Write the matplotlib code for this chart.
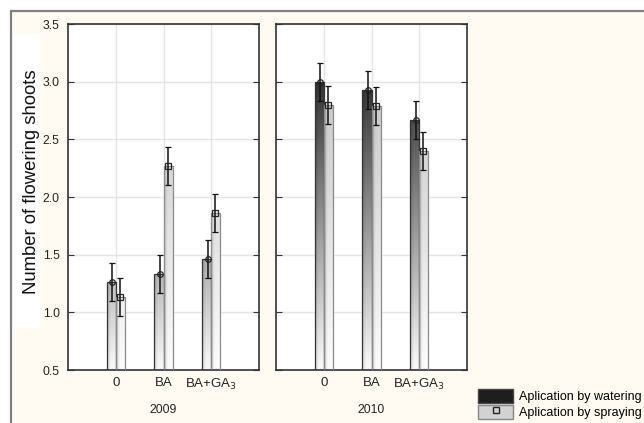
import numpy as np
import matplotlib
matplotlib.use('Agg')
import matplotlib.pyplot as plt
from matplotlib.patches import Rectangle, Patch
from matplotlib.lines import Line2D
from matplotlib.legend_handler import HandlerTuple

plt.rcParams['font.family'] = ['Liberation Sans', 'DejaVu Sans']

years = ['2009', '2010']
treatments = ['0', 'BA', 'BA+GA$_3$']
watering = {'2009': [1.26, 1.33, 1.465], '2010': [3.00, 2.93, 2.665]}
spraying = {'2009': [1.135, 2.27, 1.865], '2010': [2.795, 2.79, 2.395]}
watering_se = {'2009': [0.165, 0.165, 0.165], '2010': [0.165, 0.165, 0.165]}
spraying_se = {'2009': [0.165, 0.165, 0.165], '2010': [0.165, 0.165, 0.165]}
yticks = [0.5, 1.0, 1.5, 2.0, 2.5, 3.0, 3.5]

cream = '#fffaf2'
ymin, ymax = 0.5, 3.5


def gradient_bar(ax, x0, w, h, top_gray, bottom_gray, edge):
    # vertical gradient set by data height, slight darkening on the left side
    ny, nx = 60, 20
    yy = np.linspace(ymin, h, ny)[:, None]
    xx = np.linspace(0, 1, nx)[None, :]
    t = (yy - ymin) / (3.0 - ymin)
    g = bottom_gray + (top_gray - bottom_gray) * t
    g = g * (0.88 + 0.14 * np.clip(xx * 2.5, 0, 1))
    g = np.clip(g, 0, 1)
    img = np.dstack([g, g, g])
    rect = ax.bar(x0, h - ymin, width=w, bottom=ymin, align='edge',
                  facecolor='none', edgecolor=edge, linewidth=0.9, zorder=3)[0]
    im = ax.imshow(img, extent=[x0, x0 + w, ymin, h], origin='lower',
                   aspect='auto', interpolation='bilinear', zorder=2)
    im.set_clip_path(rect)


fig = plt.figure(figsize=(6.44, 4.23), dpi=100, facecolor='white')
W, H = 644.0, 423.0

# frame of the whole picture
fig.patches.append(Rectangle((11 / W, -0.01), 1.0, (H - 11) / H + 0.01,
                             transform=fig.transFigure, facecolor=cream,
                             edgecolor='#808080', linewidth=1.6, zorder=-2))
# white box behind the y label
fig.patches.append(Rectangle((13 / W, 1 - 328 / H), 27 / W, 293 / H,
                             transform=fig.transFigure, facecolor='white',
                             edgecolor='none', zorder=-1))

lefts = [68, 276]
x = np.arange(1, len(treatments) + 1)
bw = 0.19

for i, yr in enumerate(years):
    ax = fig.add_axes([lefts[i] / W, (H - 370) / H, 191 / W, 346 / H])
    ax.set_zorder(2)
    ax.set_facecolor('white')
    for j in range(len(treatments)):
        gradient_bar(ax, x[j] - bw, bw, watering[yr][j], 0.2, 0.96, '#333333')
        gradient_bar(ax, x[j], bw, spraying[yr][j], 0.77, 0.97, '#8a8a8a')
    ax.errorbar(x - 0.07, watering[yr], yerr=watering_se[yr], fmt='o', ms=4,
                mfc='none', mec='#222222', mew=0.9, ecolor='#111111',
                elinewidth=1.1, capsize=2.3, capthick=1.1, zorder=5)
    ax.errorbar(x + 0.085, spraying[yr], yerr=spraying_se[yr], fmt='s', ms=4,
                mfc='none', mec='#222222', mew=0.9, ecolor='#111111',
                elinewidth=1.1, capsize=2.3, capthick=1.1, zorder=5)
    ax.set_xlim(0, 4)
    ax.set_ylim(ymin, ymax)
    ax.set_xticks(x)
    ax.set_xticklabels(treatments, fontsize=9.5, color='#222222')
    ax.set_yticks(yticks)
    ax.grid(True, color='#e4e4e4', linewidth=1.0, zorder=0)
    ax.set_axisbelow(True)
    ax.tick_params(axis='x', length=0, pad=5)
    ax.tick_params(axis='y', direction='in', length=4, right=True,
                   labelsize=8.8, colors='#333333', pad=6)
    ax.tick_params(axis='y', labelcolor='#222222')
    if i > 0:
        ax.tick_params(axis='y', labelleft=False)
    else:
        ax.set_yticklabels(['%.1f' % v for v in yticks])
    for s in ax.spines.values():
        s.set_color('#333333')
        s.set_linewidth(1.2)
    ax.text(0.5, -0.097, yr, transform=ax.transAxes, ha='center', va='top',
            fontsize=8.8, color='#222222')

fig.text(32 / W, 1 - 182 / H, 'Number of flowering shoots', rotation=90,
         ha='center', va='center', fontsize=13.3, color='#111111')

handles = [Patch(facecolor='#1e1e1e', edgecolor='#444444'),
           (Patch(facecolor='#d2d2d2', edgecolor='#888888'),
            Line2D([], [], marker='s', ms=4, mfc='none', mec='#222222',
                   ls='none'))]
fig.legend(handles, ['Aplication by watering', 'Aplication by spraying'],
           handler_map={tuple: HandlerTuple(ndivide=1, pad=0)},
           loc='upper left', bbox_to_anchor=(478 / W, 1 - 389 / H),
           frameon=False, fontsize=9, handlelength=2.8, handleheight=1.4,
           labelspacing=0.1, handletextpad=0.45, borderaxespad=0,
           borderpad=0)

fig.savefig('out.png', dpi=100, facecolor=fig.get_facecolor())
